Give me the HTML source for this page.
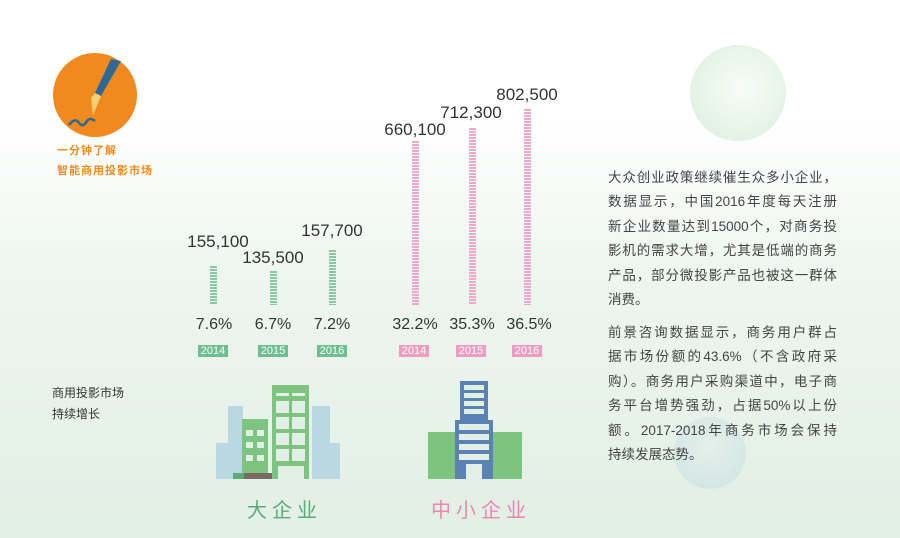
<!DOCTYPE html>
<html><head><meta charset="utf-8"><style>
body{margin:0}
#c{position:relative;width:900px;height:538px;overflow:hidden;background:linear-gradient(#fff 0%,#fff 22%,#eef6ef 50%,#e2efe5 100%);font-family:"Liberation Sans","Noto Sans CJK SC",sans-serif;color:#333}
.a{position:absolute;white-space:nowrap}
.num{font-size:17px;color:#333;transform:translateX(-50%)}
.pct{font-size:16px;color:#333;transform:translateX(-50%);top:316px}
.yr{font-size:11px;color:#fff;width:30px;height:12px;line-height:12px;text-align:center;top:345px}
.g{background:#6fbf8e}.p{background:#ee9cc0}
.bar{position:absolute;bottom:233px;width:7px}
.bg{background:repeating-linear-gradient(#86c9a3 0 2px,transparent 2px 3px)}
.bp{background:repeating-linear-gradient(#f2a9c8 0 2px,transparent 2px 3px)}
.t{position:absolute;left:608px;width:229px;font-size:13.5px;color:#444;text-align:justify;text-align-last:justify;height:20px;line-height:20px;white-space:nowrap}
</style></head><body><div id="c">
<div class="a" style="left:690px;top:45px;width:96px;height:96px;border-radius:50%;background:radial-gradient(circle at 55% 45%,#f8fcf8,#d9eedb)"></div>
<div class="a" style="left:674px;top:417px;width:72px;height:72px;border-radius:50%;background:radial-gradient(circle at 50% 40%,#e4f0ec,#cfe3e0)"></div>
<div class="a" style="left:53px;top:53px;width:84px;height:84px;border-radius:50%;background:#f08a1e"></div>
<svg class="a" style="left:53px;top:53px" width="84" height="84"><path d="M68 8 L58 6 L42 40 L48 43 Z" fill="#2c6a95"/><path d="M42 40 L48 43 L40 62 L38 45Z" fill="#f3cf75"/><path d="M16 72 q6-8 10-2 q4 5 8-2 q3-4 8 0" stroke="#2c6a95" stroke-width="2.5" fill="none"/></svg>
<div class="a" style="left:57px;top:142px;font-size:11px;font-weight:bold;color:#f08a1e;letter-spacing:1px">一分钟了解</div>
<div class="a" style="left:57px;top:162px;font-size:11px;font-weight:bold;color:#f08a1e;letter-spacing:1px">智能商用投影市场</div>
<div class="a" style="left:52px;top:384px;font-size:12px;color:#333">商用投影市场</div>
<div class="a" style="left:52px;top:405px;font-size:12px;color:#333">持续增长</div>

<div class="bar bg" style="left:210px;height:39px"></div>
<div class="bar bg" style="left:270px;height:34px"></div>
<div class="bar bg" style="left:329px;height:55px"></div>
<div class="bar bp" style="left:412px;height:164px"></div>
<div class="bar bp" style="left:469px;height:177px"></div>
<div class="bar bp" style="left:524px;height:196px"></div>

<div class="a num" style="left:218px;top:232px">155,100</div>
<div class="a num" style="left:273px;top:248px">135,500</div>
<div class="a num" style="left:332px;top:221px">157,700</div>
<div class="a num" style="left:415px;top:120px">660,100</div>
<div class="a num" style="left:471px;top:103px">712,300</div>
<div class="a num" style="left:527px;top:85px">802,500</div>

<div class="a pct" style="left:214px">7.6%</div>
<div class="a pct" style="left:273px">6.7%</div>
<div class="a pct" style="left:332px">7.2%</div>
<div class="a pct" style="left:415px">32.2%</div>
<div class="a pct" style="left:472px">35.3%</div>
<div class="a pct" style="left:529px">36.5%</div>

<div class="a yr g" style="left:198px">2014</div>
<div class="a yr g" style="left:258px">2015</div>
<div class="a yr g" style="left:317px">2016</div>
<div class="a yr p" style="left:399px">2014</div>
<div class="a yr p" style="left:456px">2015</div>
<div class="a yr p" style="left:512px">2016</div>

<svg class="a" style="left:0;top:0" width="900" height="538">
<g fill="#b9d8e2"><polygon points="216,479 216,443 228,443 228,406 243,406 243,479"/><polygon points="312,479 312,406 330,406 330,443 340,443 340,479"/></g>
<g fill="#7cc47f"><rect x="242" y="419" width="26" height="60"/><rect x="272" y="385" width="37" height="94"/>
<rect x="428" y="432" width="27" height="47"/><rect x="493" y="432" width="29" height="47"/></g>
<g fill="#e2efe5"><rect x="246" y="430" width="7" height="6"/><rect x="257" y="430" width="7" height="6"/><rect x="246" y="442" width="7" height="6"/><rect x="257" y="442" width="7" height="6"/><rect x="246" y="455" width="7" height="6"/><rect x="257" y="455" width="7" height="6"/>
<rect x="276" y="393" width="13" height="3"/><rect x="292" y="393" width="13" height="3"/>
<rect x="276" y="401" width="13" height="12"/><rect x="292" y="401" width="13" height="12"/><rect x="276" y="417" width="13" height="12"/><rect x="292" y="417" width="13" height="12"/><rect x="276" y="433" width="13" height="12"/><rect x="292" y="433" width="13" height="12"/><rect x="276" y="449" width="13" height="12"/><rect x="292" y="449" width="13" height="12"/><rect x="278" y="466" width="26" height="13"/></g>
<rect x="244" y="473" width="28" height="6" fill="#7a6a62"/><rect x="233" y="473" width="11" height="6" fill="#5aaa7a"/>
<rect x="460" y="381" width="28" height="40" fill="#5b82b5"/><rect x="455" y="420" width="38" height="59" fill="#5b82b5"/>
<g fill="#e2efe5"><rect x="464" y="385" width="20" height="5"/><rect x="464" y="393" width="20" height="5"/><rect x="464" y="401" width="20" height="5"/><rect x="464" y="409" width="20" height="5"/>
<rect x="459" y="424" width="30" height="6"/><rect x="459" y="434" width="30" height="6"/><rect x="459" y="444" width="30" height="6"/><rect x="459" y="454" width="30" height="6"/><rect x="466" y="464" width="16" height="15"/></g>
</svg>
<div class="a" style="left:247px;top:494px;font-size:20px;color:#5aaa7a;letter-spacing:5px">大企业</div>
<div class="a" style="left:431px;top:494px;font-size:20px;color:#e887b0;letter-spacing:5px">中小企业</div>

<div class="t" style="top:168px">大众创业政策继续催生众多小企业，</div>
<div class="t" style="top:192px">数据显示，中国2016年度每天注册</div>
<div class="t" style="top:217px">新企业数量达到15000个，对商务投</div>
<div class="t" style="top:241px">影机的需求大增，尤其是低端的商务</div>
<div class="t" style="top:266px">产品，部分微投影产品也被这一群体</div>
<div class="t" style="top:290px;text-align-last:left">消费。</div>
<div class="t" style="top:323px">前景咨询数据显示，商务用户群占</div>
<div class="t" style="top:347px">据市场份额的43.6%（不含政府采</div>
<div class="t" style="top:372px">购）。商务用户采购渠道中，电子商</div>
<div class="t" style="top:396px">务平台增势强劲，占据50%以上份</div>
<div class="t" style="top:421px">额。2017-2018年商务市场会保持</div>
<div class="t" style="top:445px;text-align-last:left">持续发展态势。</div>
</div></body></html>
